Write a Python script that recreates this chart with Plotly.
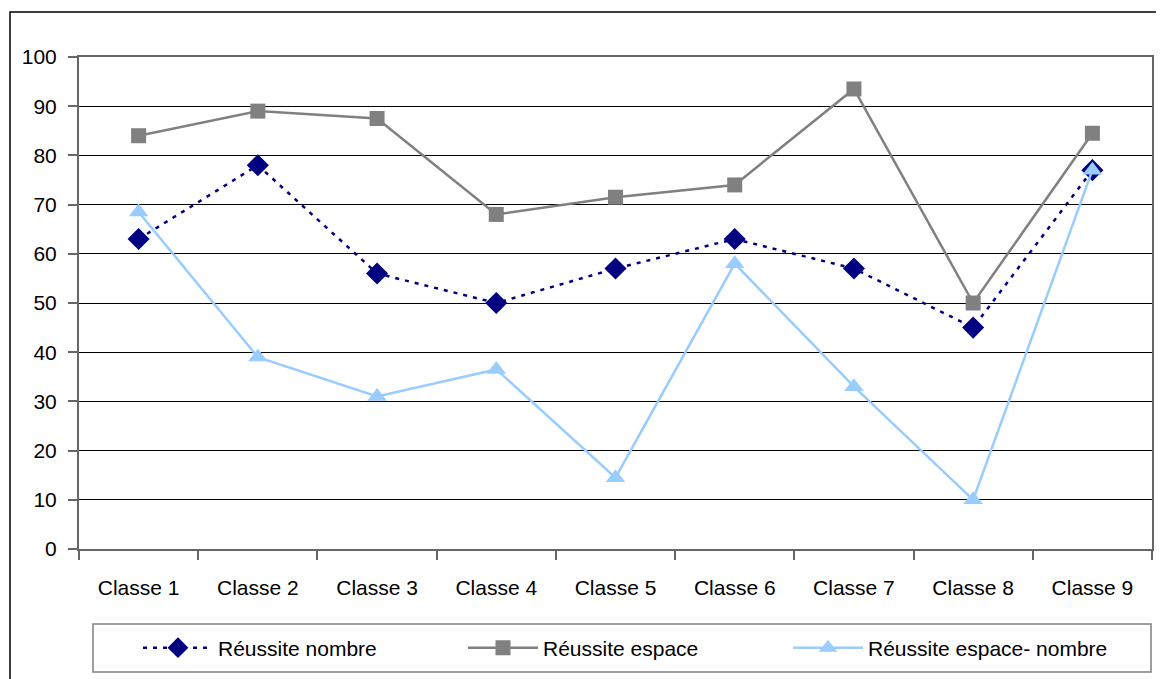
import plotly.graph_objects as go

classes = ["Classe 1", "Classe 2", "Classe 3", "Classe 4", "Classe 5",
           "Classe 6", "Classe 7", "Classe 8", "Classe 9"]
reussite_nombre = [63, 78, 56, 50, 57, 63, 57, 45, 77]
reussite_espace = [84, 89, 87.5, 68, 71.5, 74, 93.5, 50, 84.5]
reussite_espace_nombre = [68.5, 39, 31, 36.5, 14.5, 58, 33, 10, 77]
y_ticks = list(range(0, 101, 10))

FONT = "Liberation Sans Narrow, Arial Narrow, Liberation Sans, Arial, sans-serif"
# the page puts the figure 8px in from the top-left corner
OFF = 8
W, H = 1164 - OFF, 679 - OFF
L, R, T, B = 79 - OFF, 12, 57 - OFF, 130
PW, PH = W - L - R, H - T - B


def px_x(x):
    # screen pixel -> paper fraction
    return (x - OFF - L) / PW


def px_y(y):
    return 1 - (y - OFF - T) / PH


fig = go.Figure()
fig.add_trace(go.Scatter(
    x=classes, y=reussite_nombre, name="Réussite nombre", mode="lines+markers",
    line=dict(color="#000080", width=2.5, dash="4px,6px"),
    marker=dict(symbol="diamond", size=17, color="#000080"),
))
fig.add_trace(go.Scatter(
    x=classes, y=reussite_espace, name="Réussite espace", mode="lines+markers",
    line=dict(color="#808080", width=2.5),
    marker=dict(symbol="square", size=15, color="#808080"),
))
fig.add_trace(go.Scatter(
    x=classes, y=reussite_espace_nombre, name="Réussite espace- nombre",
    mode="lines+markers",
    line=dict(color="#99CCFF", width=2.5),
    marker=dict(symbol="triangle-up", size=17, color="#99CCFF"),
))

# outer chart border and legend box
fig.add_shape(type="rect", xref="paper", yref="paper",
              x0=px_x(10), x1=px_x(1200), y0=px_y(720), y1=px_y(12),
              line=dict(color="#000000", width=1.5), layer="below")
fig.add_shape(type="rect", xref="paper", yref="paper",
              x0=px_x(93), x1=px_x(1151), y0=px_y(672), y1=px_y(624),
              line=dict(color="#808080", width=1.5), layer="below")

fig.update_layout(
    width=W, height=H,
    margin=dict(l=L, r=R, t=T, b=B, autoexpand=False),
    paper_bgcolor="white", plot_bgcolor="white",
    font=dict(family=FONT, size=21, color="#000000"),
    showlegend=True,
    legend=dict(
        orientation="h", x=px_x(138), xanchor="left",
        y=px_y(648), yanchor="middle",
        bgcolor="rgba(0,0,0,0)", borderwidth=0,
        itemwidth=70,
        entrywidth=240, entrywidthmode="pixels",
        font=dict(family=FONT, size=21),
    ),
    xaxis=dict(
        type="category", tickson="boundaries", ticks="outside", ticklen=9,
        tickcolor="#666666", tickwidth=2,
        showline=True, linecolor="#666666", linewidth=2, mirror=True,
        showgrid=False, ticklabelstandoff=19,
        range=[-0.5, 8.5],
    ),
    yaxis=dict(
        range=[0, 100], tickvals=y_ticks, ticks="outside", ticklen=9,
        tickcolor="#666666", tickwidth=2,
        showline=True, linecolor="#666666", linewidth=2, mirror=True,
        showgrid=True, gridcolor="#000000", gridwidth=1,
        zeroline=False, ticklabelstandoff=7,
    ),
)

fig.write_html("out.html")
